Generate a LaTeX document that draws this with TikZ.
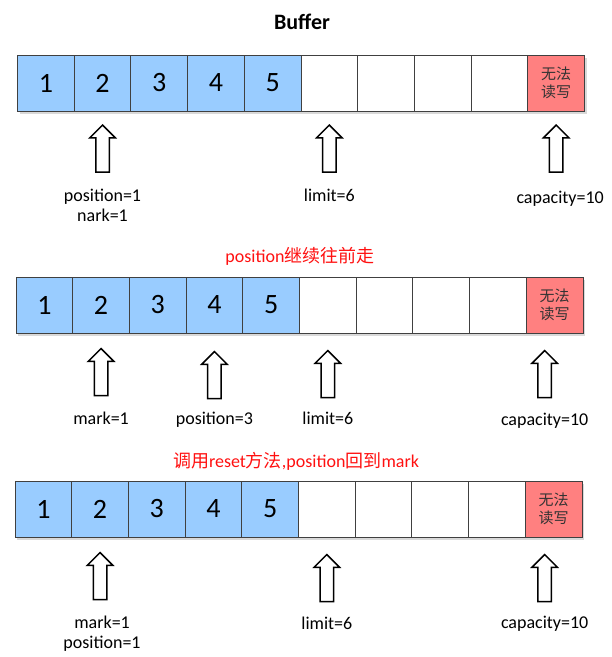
\documentclass[tikz,border=0pt]{standalone}
\usepackage{fontspec}
\setmainfont{Carlito}
\newfontfamily\cjk{Noto Sans CJK SC}
\usetikzlibrary{positioning,shapes.arrows,shadows}
\definecolor{bufblue}{HTML}{99CCFF}
\definecolor{bufred}{HTML}{FF8080}
\definecolor{tipred}{HTML}{FF1010}

\begin{document}
\begin{tikzpicture}[x=1pt, y=-1pt,
	bar/.style = {minimum width=567pt, minimum height=56pt, inner sep=0, fill=white, drop shadow={shadow xshift=2pt, shadow yshift=-3pt, opacity=.3}},
	cell/.style = {draw=black!75, line width=1pt, minimum width=56.7pt, minimum height=56pt, inner sep=0, font=\fontsize{28}{30}\selectfont},
	full/.style = {cell, fill=bufblue},
	lock/.style = {cell, fill=bufred, align=center, text=black!80, font=\cjk\fontsize{15}{18}\selectfont},
	uparrow/.style = {draw, single arrow, shape border rotate=90, line width=1.5pt, inner sep=6pt, single arrow head extend=6pt, minimum height=47pt, fill=white, anchor=tip},
	lbl/.style = {font=\fontsize{18}{20}\selectfont, align=center, inner sep=0, anchor=north},
	title/.style = {font=\fontsize{18}{20}\selectfont, text=tipred}]
		\useasboundingbox (0,0) rectangle (612,657);
		
		\node[font=\bfseries\fontsize{22}{24}\selectfont] (buf) at (302,22) {Buffer};
		\node[title] (t2) at (300,256) {position{\cjk 继续往前走}};
		\node[title] (t3) at (296,461) {{\cjk 调用}reset{\cjk 方法},position{\cjk 回到}mark};
		
		\foreach \r/\x/\y in {1/17.5/83, 2/16/305, 3/15/509}{
			\node[bar] (bar\r) at (\x+283.5,\y) {};
			\foreach \i in {1,...,5}
				\node[full] (c\r-\i) at (\x+56.7*\i-28.35,\y) {\i};
			\foreach \i in {6,...,9}
				\node[cell] (c\r-\i) at (\x+56.7*\i-28.35,\y) {};
			\node[lock] (c\r-10) at (\x+538.65,\y) {无法\\读写};
		}
		
		\node[uparrow, below=12.5pt of c1-2, anchor=tip] (a1-pos) {};
		\node[uparrow, below=12.5pt of c1-6, anchor=tip] (a1-lim) {};
		\node[uparrow, below=12.5pt of c1-10, anchor=tip] (a1-cap) {};
		\node[lbl] (l1-pos) [below=16pt of a1-pos.tail] {position=1\\nark=1};
		\node[lbl] (l1-lim) [below=16pt of a1-lim.tail] {limit=6};
		\node[lbl, xshift=4pt] (l1-cap) [below=18pt of a1-cap.tail] {capacity=10};
		
		\node[uparrow, below=14pt of c2-2, anchor=tip] (a2-mark) {};
		\node[uparrow, below=17pt of c2-4, anchor=tip] (a2-pos) {};
		\node[uparrow, below=16pt of c2-6, anchor=tip] (a2-lim) {};
		\node[uparrow, below=16pt of c2-10, anchor=tip, xshift=-10pt] (a2-cap) {};
		\node[lbl] (l2-mark) [below=15pt of a2-mark.tail] {mark=1};
		\node[lbl] (l2-pos) [below=13pt of a2-pos.tail] {position=3};
		\node[lbl] (l2-lim) [below=13pt of a2-lim.tail] {limit=6};
		\node[lbl] (l2-cap) [below=15pt of a2-cap.tail] {capacity=10};
		
		\node[uparrow, below=14pt of c3-2, anchor=tip] (a3-mark) {};
		\node[uparrow, below=16pt of c3-6, anchor=tip] (a3-lim) {};
		\node[uparrow, below=16pt of c3-10, anchor=tip, xshift=-9pt] (a3-cap) {};
		\node[lbl, xshift=2pt] (l3-mark) [below=15pt of a3-mark.tail] {mark=1\\position=1};
		\node[lbl] (l3-lim) [below=14pt of a3-lim.tail] {limit=6};
		\node[lbl] (l3-cap) [below=14pt of a3-cap.tail] {capacity=10};
	\end{tikzpicture}
\end{document}
